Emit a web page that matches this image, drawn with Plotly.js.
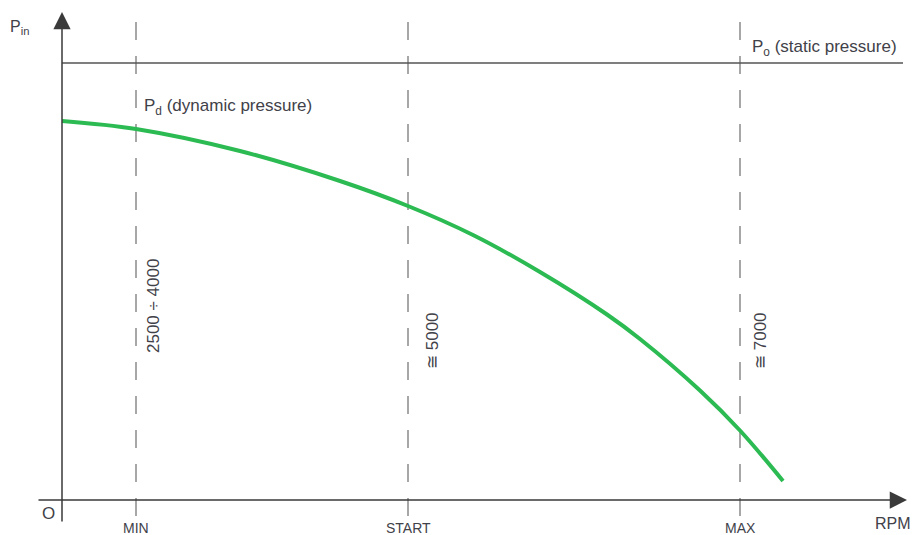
<!DOCTYPE html>
<html>
<head>
<meta charset="utf-8">
<script src="https://cdn.plot.ly/plotly-3.0.1.min.js"></script>
<style>html,body{margin:0;padding:0;background:#fff;}#chart{width:913px;height:535px;}</style>
</head>
<body>
<div id="chart"></div>
<script>
// Schematic units: origin at axis crossing
const curveX = [0, 7.4, 17.8, 27.8, 34.6, 41.1, 47.8, 54.5, 57.8, 63.8, 67.8, 72.1];
const curveY = [37.9, 37.1, 34.9, 31.9, 29.4, 26.5, 22.8, 18.55, 16.1, 10.95, 6.95, 1.9];
const markerX = [7.4, 34.6, 67.8];
const markerLabels = ["MIN", "START", "MAX"];
const rpmLabels = ["2500 ÷ 4000", "≅ 5000", "≅ 7000"];
const staticLevel = 43.7;
const staticEnd = 84.1;
const axisXEnd = 84.5;
const axisYEnd = 48.8;

const textColor = '#414149';
const fontFam = 'Liberation Sans, Arial, Helvetica, sans-serif';

const traces = [];
// dashed vertical reference lines
markerX.forEach(v => {
  traces.push({
    x: [v, v], y: [47.8, -2.0], mode: 'lines', hoverinfo: 'skip',
    line: {color: '#8a8a8a', width: 1.5, dash: '18px,16px'}
  });
});
// static pressure line
traces.push({
  x: [0, staticEnd], y: [staticLevel, staticLevel], mode: 'lines', hoverinfo: 'skip',
  line: {color: '#555555', width: 1.3}
});
// dynamic pressure curve
traces.push({
  x: curveX, y: curveY, mode: 'lines', hoverinfo: 'skip',
  line: {color: '#2cba52', width: 4, shape: 'spline', smoothing: 1}
});

const annotations = [
  // axes with arrows
  {x: 0, y: axisYEnd, ax: 0, ay: -2.3, axref: 'x', ayref: 'y', xref: 'x', yref: 'y',
   text: '', showarrow: true, arrowhead: 2, arrowsize: 2.3, arrowwidth: 1.5, arrowcolor: '#3a3a3a'},
  {x: axisXEnd, y: 0, ax: -2.5, ay: 0, axref: 'x', ayref: 'y', xref: 'x', yref: 'y',
   text: '', showarrow: true, arrowhead: 2, arrowsize: 2.3, arrowwidth: 1.5, arrowcolor: '#3a3a3a'},
  {x: -4.3, y: 47.3, text: 'P<sub>in</sub>', showarrow: false, xanchor: 'center', yanchor: 'middle',
   font: {size: 16, color: textColor, family: fontFam}},
  {x: 68.8, y: 45.2, text: 'P<sub>o</sub> (static pressure)', showarrow: false, xanchor: 'left', yanchor: 'middle',
   font: {size: 17, color: textColor, family: fontFam}},
  {x: 8.0, y: 39.3, text: 'P<sub>d</sub> (dynamic pressure)', showarrow: false, xanchor: 'left', yanchor: 'middle',
   font: {size: 17, color: textColor, family: fontFam}},
  {x: -1.4, y: -1.3, text: 'O', showarrow: false, xanchor: 'center', yanchor: 'middle',
   font: {size: 17, color: textColor, family: fontFam}},
  {x: 83.1, y: -2.3, text: 'RPM', showarrow: false, xanchor: 'center', yanchor: 'middle',
   font: {size: 16, color: textColor, family: fontFam}}
];
const rpmPos = [[9.1, 19.4], [37.0, 15.9], [69.8, 15.9]];
markerX.forEach((v, i) => {
  annotations.push({x: v, y: -2.8, text: markerLabels[i], showarrow: false, xanchor: 'center', yanchor: 'middle',
    font: {size: 14, color: textColor, family: fontFam}});
  annotations.push({x: rpmPos[i][0], y: rpmPos[i][1], text: rpmLabels[i], showarrow: false, textangle: -90,
    xanchor: 'center', yanchor: 'middle', font: {size: 17, color: textColor, family: fontFam}});
});

const layout = {
  width: 913, height: 535,
  margin: {l: 0, r: 0, t: 0, b: 0},
  paper_bgcolor: '#ffffff', plot_bgcolor: '#ffffff',
  showlegend: false,
  xaxis: {range: [-6.2, 85.1], visible: false, fixedrange: true},
  yaxis: {range: [-3.5, 50], visible: false, fixedrange: true},
  annotations: annotations
};
Plotly.newPlot('chart', traces, layout, {staticPlot: true, displayModeBar: false});
</script>
</body>
</html>
